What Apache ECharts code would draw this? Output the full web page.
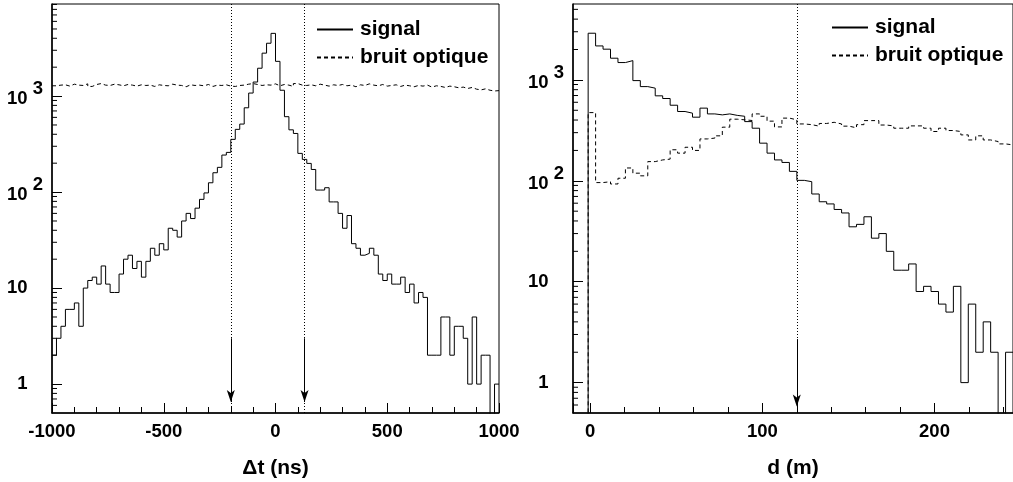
<!DOCTYPE html>
<html><head><meta charset="utf-8">
<script src="https://cdn.jsdelivr.net/npm/echarts@6/dist/echarts.min.js"></script>
<style>html,body{margin:0;padding:0;background:#fff}#c{width:1013px;height:482px}</style>
</head><body><div id="c"></div>
<script>
// ---------- data ----------
// left panel: Δt histogram, bins of 20 ns starting at -1000 ns
const dtStart = -1000;
const dtBinWidth = 20;
const dtSignal = [
  2,3,4,6,6,7,4,10,12,13,
  11,17,11,9,9,14,20,22,16,19,
  13,19,26,22,29,25,42,40,34,50,
  60,53,68,84,98,125,159,181,243,259,
  354,450,511,755,1075,1400,1950,2800,3550,4500,
  2300,1150,610,445,408,253,219,199,172,105,
  105,111,79,79,60,42,57,29,26,22,
  23,26,22,14,12,14,11,11,13,9,
  11,7,9,8,2,2,2,5,5,2,
  4,4,3,1,5,1,2,2,0,1
];
const dtNoise = [
  1280,1300,1310,1270,1330,1300,1290,1340,1260,1320,
  1350,1300,1290,1330,1310,1280,1320,1300,1270,1310,
  1290,1300,1260,1310,1290,1280,1330,1300,1290,1250,
  1310,1290,1300,1280,1320,1260,1300,1290,1310,1270,
  1260,1290,1300,1330,1350,1320,1290,1310,1300,1340,
  1280,1320,1300,1260,1350,1300,1290,1310,1280,1330,
  1300,1270,1310,1290,1320,1280,1300,1250,1310,1290,
  1340,1300,1280,1320,1270,1290,1310,1260,1300,1280,
  1250,1290,1270,1300,1240,1280,1260,1230,1270,1250,
  1220,1240,1200,1230,1180,1160,1190,1150,1130,1140
];
const dtCuts = [-200, 130];

// right panel: distance histogram
const dStart = -1.2;
const dBinWidth = 4.33;
const dSignal = [
  2900,2170,2015,1640,1485,1553,984,858,828,695,
  654,561,486,468,427,525,460,450,460,445,
  436,386,332,236,188,161,152,124,101,98,
  74,62,59,52,48,35,37,44,27,30,
  20,13,13,15,8,9,8,6,5,9,
  1,6,2,4,2,0,2
];
const dNoise = [
  474,96,98,93,106,134,119,112,155,161,
  164,203,188,215,200,260,265,279,340,408,
  402,396,460,436,390,342,418,402,366,360,
  348,370,380,366,348,335,360,395,395,357,
  350,332,332,350,350,332,308,332,315,308,
  285,254,279,254,245,232,227
];
const dCuts = [120];

const seriesNames = ['signal', 'bruit optique'];
const xTitles = ['\u0394t (ns)', 'd (m)'];
const logMinorTicks = [0.6,0.7,0.8,0.9,2,3,4,5,6,7,8,9,20,30,40,50,60,70,80,90,
  200,300,400,500,600,700,800,900,2000,3000,4000,5000,6000,7000,8000,9000];

// ---------- helpers ----------
const FLOOR = 1e-3;
const FONT = "'Liberation Sans', Arial, Helvetica, sans-serif";
function stepPoints(start, w, vals, fromFloor) {
  const pts = [];
  if (fromFloor) pts.push([start, FLOOR]);
  vals.forEach((v, i) => {
    const y = v > 0 ? v : FLOOR;
    pts.push([start + i * w, y]);
    pts.push([start + (i + 1) * w, y]);
  });
  return pts;
}

const panels = [
  {xmin: -1000, xmax: 1000, ymin: 0.5, ymax: 9100, interval: 500, split: null,
   grid: {left: 52, top: 4, width: 447, height: 409}},
  {xmin: -10, xmax: 245.6, ymin: 0.5, ymax: 5650, interval: null, split: 3,
   grid: {left: 573, top: 4, width: 440, height: 409}}
];

const grids = panels.map(p => Object.assign({show: true, borderColor: '#000', borderWidth: 1,
  containLabel: false, outerBoundsMode: 'none'}, p.grid));

const xAxes = panels.map((p, i) => {
  const ax = {
    type: 'value', gridIndex: i, min: p.xmin, max: p.xmax,
    name: xTitles[i], nameLocation: 'middle', nameGap: 45,
    nameTextStyle: {fontSize: 21, fontWeight: 'bold', color: '#000', fontFamily: FONT},
    axisLine: {show: true, onZero: false, lineStyle: {color: '#000', width: 1.5}},
    axisTick: {show: true, inside: true, length: 10, lineStyle: {color: '#000', width: 1}},
    minorTick: {show: true, splitNumber: 5, length: 6, lineStyle: {color: '#000', width: 1}},
    splitLine: {show: false}, minorSplitLine: {show: false},
    axisLabel: {margin: 9, fontSize: 18.5, fontWeight: 'bold', color: '#000', fontFamily: FONT,
      showMinLabel: i === 0, showMaxLabel: i === 0,
      formatter: v => (i === 1 && Math.abs(v % 100) > 1e-9) ? '' : String(v)}
  };
  if (p.interval) ax.interval = p.interval; else ax.splitNumber = p.split;
  return ax;
});

const yAxes = panels.map((p, i) => ({
  type: 'log', logBase: 10, gridIndex: i, min: p.ymin, max: p.ymax,
  axisLine: {show: true, onZero: false, lineStyle: {color: '#000', width: 1.5}},
  axisTick: {show: true, inside: true, length: 10, lineStyle: {color: '#000', width: 1}},
  splitLine: {show: false},
  axisLabel: {
    margin: 9, showMinLabel: false, showMaxLabel: false, color: '#000',
    formatter: v => {
      const l = Math.log10(v), e = Math.round(l);
      if (Math.abs(l - e) > 1e-6) return '';
      if (e === 0) return '{p|1}{h| 0}';
      if (e === 1) return '{p|10}{h| 0}';
      return '{b|10}{s| ' + e + '}';
    },
    rich: {
      p: {fontSize: 18.5, fontWeight: 'bold', color: '#000', fontFamily: FONT},
      h: {fontSize: 18.5, fontWeight: 'bold', color: 'rgba(0,0,0,0)', fontFamily: FONT},
      b: {fontSize: 18.5, fontWeight: 'bold', color: '#000', fontFamily: FONT, verticalAlign: 'bottom', padding: [0, 0, 4, 0]},
      s: {fontSize: 18.5, fontWeight: 'bold', color: '#000', fontFamily: FONT, padding: [0, 0, 14, 0]}
    }
  }
}));

function histSeries(name, idx, pts, dashed, markLine) {
  const s = {
    name: name, type: 'line', xAxisIndex: idx, yAxisIndex: idx, data: pts,
    symbol: 'none', showSymbol: false, clip: true, animation: false, silent: true,
    lineStyle: {color: '#000', width: 1, type: dashed ? [4, 3] : 'solid'},
    itemStyle: {color: '#000'}
  };
  if (markLine) s.markLine = markLine;
  return s;
}

function cutMarkLine(cuts, p, arrowTop, arrowTip) {
  const data = [];
  cuts.forEach(c => {
    data.push([{coord: [c, p.ymin], lineStyle: {type: [1, 2], color: '#000', width: 1}},
               {coord: [c, p.ymax]}]);
    data.push([{coord: [c, arrowTop], symbol: 'none', lineStyle: {type: 'solid', color: '#000', width: 1}},
               {coord: [c, arrowTip], symbol: 'arrow', symbolSize: [6, 12]}]);
  });
  return {silent: true, animation: false, symbol: ['none', 'none'], label: {show: false},
          emphasis: {disabled: true}, lineStyle: {color: '#000'}, data: data};
}

function minorTickSeries(idx, p) {
  return {
    type: 'custom', xAxisIndex: idx, yAxisIndex: idx, silent: true, animation: false, z: 5,
    data: logMinorTicks.filter(v => v > p.ymin && v < p.ymax).map(v => [p.xmin, v]),
    renderItem: (params, api) => {
      const pt = api.coord([api.value(0), api.value(1)]);
      return {type: 'line', shape: {x1: pt[0], y1: pt[1], x2: pt[0] + 5, y2: pt[1]},
              style: {stroke: '#000', lineWidth: 1}};
    }
  };
}

const series = [
  histSeries(seriesNames[0], 0, stepPoints(dtStart, dtBinWidth, dtSignal, false), false,
    cutMarkLine(dtCuts, panels[0], 3, 0.65)),
  histSeries(seriesNames[1], 0, stepPoints(dtStart, dtBinWidth, dtNoise, false), true),
  histSeries(seriesNames[0], 1, stepPoints(dStart, dBinWidth, dSignal, true), false,
    cutMarkLine(dCuts, panels[1], 2.7, 0.58)),
  histSeries(seriesNames[1], 1, stepPoints(dStart, dBinWidth, dNoise, true), true),
  minorTickSeries(0, panels[0]),
  minorTickSeries(1, panels[1])
];

const legendBase = {
  orient: 'vertical', itemWidth: 36, itemHeight: 14, itemGap: 7, selectedMode: false,
  data: seriesNames,
  itemStyle: {color: 'rgba(0,0,0,0)', borderColor: 'rgba(0,0,0,0)', borderWidth: 0, opacity: 0},
  textStyle: {fontSize: 21, fontWeight: 'bold', color: '#000', fontFamily: FONT, padding: [0, 0, 0, 2]}
};

const chart = echarts.init(document.getElementById('c'), null, {renderer: 'canvas'});
chart.setOption({
  animation: false,
  backgroundColor: '#fff',
  textStyle: {fontFamily: FONT},
  grid: grids,
  xAxis: xAxes,
  yAxis: yAxes,
  legend: [
    Object.assign({left: 311, top: 14}, legendBase),
    Object.assign({left: 826, top: 12}, legendBase)
  ],
  series: series
});
</script>
</body></html>
